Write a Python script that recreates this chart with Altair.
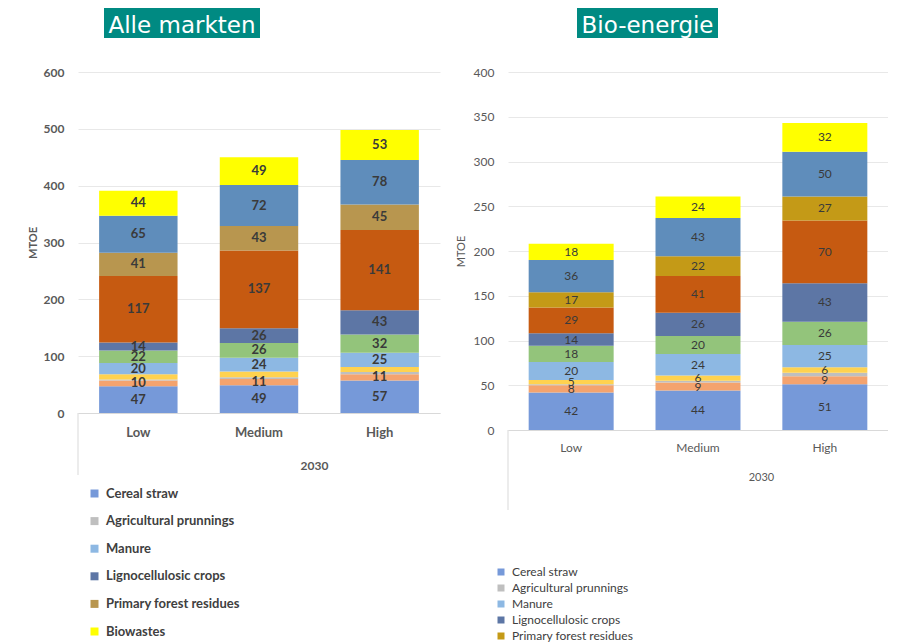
import altair as alt
import pandas as pd

# ---------------- data ----------------
scenarios = ["Low", "Medium", "High"]
series = [
    "Cereal straw", "Oilseed residues", "Agricultural prunnings", "Sugar beet leaves",
    "Manure", "Grassy crops", "Lignocellulosic crops", "Stemwood",
    "Primary forest residues", "Secondary forest residues", "Biowastes",
]
legend_items = ["Cereal straw", "Agricultural prunnings", "Manure",
                "Lignocellulosic crops", "Primary forest residues", "Biowastes"]

# Alle markten (MTOE), stacked bottom -> top in the order of `series`
all_low = [47, 10, 2, 9, 20, 22, 14, 117, 41, 65, 44]
all_medium = [49, 11, 3, 10, 24, 26, 26, 137, 43, 72, 49]
all_high = [57, 11, 4, 9, 25, 32, 43, 141, 45, 78, 53]
all_labeled = [1, 1, 0, 0, 1, 1, 1, 1, 1, 1, 1]

# Bio-energie (MTOE)
bio_low = [42, 8, 1, 5, 20, 18, 14, 29, 17, 36, 18]
bio_medium = [44, 9, 2, 6, 24, 20, 26, 41, 22, 43, 24]
bio_high = [51, 9, 4, 6, 25, 26, 43, 70, 27, 50, 32]
bio_labeled = [1, 1, 0, 1, 1, 1, 1, 1, 1, 1, 1]

all_colors = ["#7699d9", "#f4a36e", "#bfbfbf", "#ffd24f", "#8db8e3", "#93c47b",
              "#5d76a5", "#c65a11", "#b8964f", "#5f8dbb", "#ffff00"]
bio_colors = ["#7699d9", "#f4a36e", "#bfbfbf", "#ffd24f", "#8db8e3", "#93c47b",
              "#5d76a5", "#c65a11", "#c49a17", "#5f8dbb", "#ffff00"]

TEAL = "#008a82"
GRAY_TXT = "#595959"


def build_df(cols, labeled):
    rows = []
    for scen, vals in zip(scenarios, cols):
        for i, (s, v) in enumerate(zip(series, vals)):
            rows.append({"scenario": scen, "series": s, "idx": i, "value": v,
                         "labeled": labeled[i]})
    return pd.DataFrame(rows)


def panel(df, colors, title, width, height, ymax, ystep, opts):
    xscale = alt.Scale(paddingInner=opts["pi"], paddingOuter=opts["po"])
    xaxis = alt.Axis(
        title="2030", labelAngle=0, ticks=False, grid=False,
        domainColor="#d9d9d9", domainWidth=1,
        labelFont="Lato", labelFontSize=opts["xfs"], labelColor=GRAY_TXT,
        labelFontWeight=opts["weight"], labelPadding=opts["xlp"],
        titleFont="Lato", titleFontSize=opts["xfs"] - 1, titleColor=GRAY_TXT,
        titleFontWeight=opts["weight"], titleX=opts["tx"], titleY=opts["ty"],
        titleBaseline="middle", titleAlign="center",
    )
    yaxis = alt.Axis(
        title="MTOE", values=list(range(0, ymax + 1, ystep)), grid=True,
        gridColor="#e8e8e8", domain=False, ticks=False,
        labelFont="Lato", labelFontSize=opts["yfs"], labelColor=GRAY_TXT,
        labelFontWeight=opts["weight"], labelPadding=14,
        titleFont="Lato", titleFontSize=11, titleColor=GRAY_TXT,
        titleFontWeight=opts["weight"], titlePadding=opts["ytp"],
    )
    x = alt.X("scenario:N", sort=scenarios, scale=xscale, axis=xaxis)
    yscale = alt.Scale(domain=[0, ymax], nice=False)

    base = alt.Chart(df)
    bars = base.mark_bar(strokeWidth=0).encode(
        x=x,
        y=alt.Y("value:Q", stack="zero", scale=yscale, axis=yaxis),
        color=alt.Color(
            "series:N",
            scale=alt.Scale(domain=series, range=colors),
            legend=alt.Legend(
                orient="none", legendX=opts["lx"], legendY=opts["ly"],
                direction="vertical", title=None, values=legend_items,
                symbolType="square", symbolSize=opts["ss"], symbolStrokeWidth=0,
                labelFont="Lato", labelFontSize=opts["lfs"],
                labelFontWeight=opts["weight"], labelColor="#404040",
                rowPadding=opts["rp"], padding=0, labelOffset=opts["lo"],
            ),
        ),
        order=alt.Order("idx:Q", sort="ascending"),
    )
    labels = (
        base.transform_stack(
            stack="value", groupby=["scenario"], as_=["y0", "y1"],
            sort=[alt.SortField("idx", order="ascending")],
        )
        .transform_calculate(mid="(datum.y0 + datum.y1) / 2")
        .transform_filter("datum.labeled == 1")
        .mark_text(font="Lato", fontSize=opts["tfs"], fontWeight=opts["weight"],
                   color="#3a3a3a", baseline="middle")
        .encode(x=x, y=alt.Y("mid:Q", scale=yscale, axis=yaxis), text="value:Q")
    )
    deco = alt.Chart(pd.DataFrame({"t": [title]}))
    rule = deco.mark_rule(color="#d9d9d9", strokeWidth=1).encode(
        x=alt.value(0), y=alt.value(height), y2=alt.value(height + opts["rule"]))
    box = deco.mark_rect(color=TEAL).encode(
        x=alt.value(opts["bx"][0]), x2=alt.value(opts["bx"][1]),
        y=alt.value(-64), y2=alt.value(-34))
    ttext = deco.mark_text(font="DejaVu Sans", fontSize=23, color="white",
                           align="center", baseline="alphabetic").encode(
        x=alt.value((opts["bx"][0] + opts["bx"][1]) / 2), y=alt.value(-39), text="t:N")
    return alt.layer(bars, labels, rule, box, ttext).properties(width=width, height=height)


left = panel(
    build_df([all_low, all_medium, all_high], all_labeled), all_colors, "Alle markten",
    362, 341, 600, 100,
    dict(pi=0.35, po=0.175, xfs=13, yfs=12, weight="bold", xlp=13, tx=236, ty=52,
         ytp=5, lx=10, ly=415, ss=64, lfs=13, rp=13.6, lo=5, tfs=13, rule=62,
         bx=(26, 182)),
)
right = panel(
    build_df([bio_low, bio_medium, bio_high], bio_labeled), bio_colors, "Bio-energie",
    380, 358, 400, 50,
    dict(pi=0.33, po=0.163, xfs=12, yfs=12, weight="normal", xlp=12, tx=253, ty=47,
         ytp=7, lx=-13, ly=494, ss=49, lfs=12, rp=4, lo=5, tfs=12, rule=80,
         bx=(69, 210)),
)

chart = (
    alt.hconcat(left, right, spacing=15)
    .resolve_scale(color="independent", x="independent", y="independent")
    .properties(padding={"left": 19, "top": 0, "right": 0, "bottom": 0},
                background="white")
    .configure_view(stroke=None)
)

chart.save("out.html", embed_options={"renderer": "svg", "actions": False})
